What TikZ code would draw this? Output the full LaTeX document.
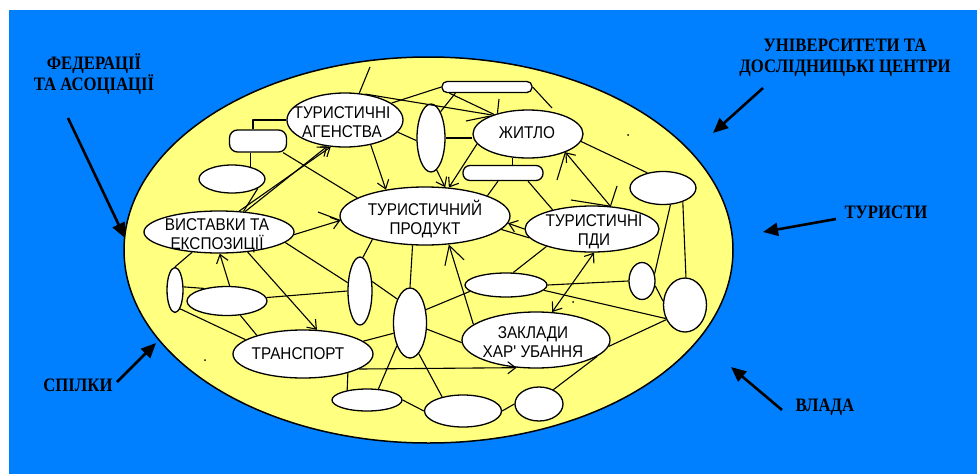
\documentclass[tikz,border=0pt]{standalone}
\usepackage{fontspec}
\setmainfont{Liberation Serif}
\newfontfamily\lblfont[FakeStretch=0.88]{Liberation Serif}
\newfontfamily\nfont[FakeStretch=0.9]{Liberation Sans}
\usetikzlibrary{shapes.geometric,arrows.meta}
\definecolor{bgblue}{RGB}{0,128,255}
\definecolor{fieldyellow}{RGB}{255,255,128}
\tikzset{
  field/.style={ellipse, draw, line width=1.5pt, fill=fieldyellow, inner sep=0pt},
  oval/.style={ellipse, draw, line width=1.3pt, fill=white, inner sep=0pt},
  pill/.style={rectangle, draw, line width=1.3pt, fill=white, inner sep=0pt},
  ntext/.style={font=\nfont\fontsize{17}{19}\selectfont, align=center, inner sep=0pt},
  otext/.style={font=\lblfont\bfseries\fontsize{19}{21}\selectfont, align=center, inner sep=0pt},
  conn/.style={line width=1.1pt},
  arr/.style={conn, -{Straight Barb[length=8pt,width=12pt]}},
  bigbarb/.style={conn, -{Straight Barb[length=18pt,width=20pt]}},
  bigarr/.style={line width=2.6pt, -{Triangle[length=15pt,width=13pt]}},
}
\begin{document}
\begin{tikzpicture}[x=1pt,y=-1pt,line join=round]
\useasboundingbox (0,0) rectangle (977,474);
\fill[white] (0,0) rectangle (977,474);
\fill[bgblue] (9,10) rectangle (977,474);

% field
\node[field, minimum width=609pt, minimum height=386pt] (fld) at (428.5,250) {};

% named ovals
\node[oval, minimum width=116pt, minimum height=54pt] (ag) at (345,120) {};
\node[oval, minimum width=110pt, minimum height=48pt] (zh) at (528,134) {};
\node[oval, minimum width=170pt, minimum height=58pt] (pr) at (425,216) {};
\node[oval, minimum width=134pt, minimum height=46pt] (pdi) at (592,229) {};
\node[oval, minimum width=150pt, minimum height=42pt] (vy) at (219,232) {};
\node[oval, minimum width=140pt, minimum height=48pt] (tr) at (303,354) {};
\node[oval, minimum width=148pt, minimum height=56pt] (za) at (536,340) {};

% blank shapes
\node[pill, rounded corners=8pt, minimum width=57pt, minimum height=22pt] (qa) at (258,141) {};
\node[oval, minimum width=66pt, minimum height=28pt] (qb) at (232,179) {};
\node[oval, minimum width=28pt, minimum height=68pt] (qc) at (431,138) {};
\node[pill, rounded corners=5pt, minimum width=90pt, minimum height=11pt] (qd) at (487,87) {};
\node[pill, rounded corners=7pt, minimum width=80pt, minimum height=15pt] (qe) at (503,173) {};
\node[oval, minimum width=66pt, minimum height=33pt] (qf) at (663,188) {};
\node[oval, minimum width=26pt, minimum height=37pt] (qg) at (642,281) {};
\node[oval, minimum width=43pt, minimum height=54pt] (qh) at (685,305) {};
\node[oval, minimum width=82pt, minimum height=24pt] (qi) at (506,285) {};
\node[oval, minimum width=33pt, minimum height=70pt] (qj) at (410,323) {};
\node[oval, minimum width=24pt, minimum height=68pt] (qk) at (360,291) {};
\node[oval, minimum width=16pt, minimum height=45pt] (ql) at (175,290) {};
\node[oval, minimum width=80pt, minimum height=29pt] (qm) at (227,301) {};
\node[oval, minimum width=70pt, minimum height=22pt] (qn) at (367,400) {};
\node[oval, minimum width=77pt, minimum height=32pt] (qo) at (463,411) {};
\node[oval, minimum width=48pt, minimum height=34pt] (qp) at (539,404) {};

% texts in ovals
\node[ntext] (agt) at (342,122) {ТУРИСТИЧНІ\\АГЕНСТВА};
\node[ntext] (zht) at (527,133) {ЖИТЛО};
\node[ntext] (prt) at (425,219) {ТУРИСТИЧНИЙ\\ПРОДУКТ};
\node[ntext] (pdit) at (594,232) {ТУРИСТИЧНІ\\ПДИ};
\node[ntext] (vyt) at (217,236) {ВИСТАВКИ ТА\\ЕКСПОЗИЦІЇ};
\node[ntext] (trt) at (298,354) {ТРАНСПОРТ};
\node[ntext] (zat) at (533,342) {ЗАКЛАДИ\\ХАР' УБАННЯ};

% free ends
\coordinate (s1) at (370,67);
\coordinate (s2) at (552,108);
\coordinate (s3) at (499,99);
\coordinate (s4) at (466,121);
\coordinate (s5) at (557,180);
\coordinate (s6) at (617,186);
\coordinate (s7) at (571,200);
\coordinate (s8) at (318,212);

% connectors
\draw[conn] ([xshift=-5pt]qa.north) |- (ag.west);
\draw[conn] ([xshift=-4pt]qa.south east) -- (pr.165);
\draw[conn] (qb.33) -- (qb.33 |- qa.south);
\draw[conn] (qb.-20) -- (vy.40);
\draw[arr] (vy.38) -- (ag.236);
\draw[arr] (vy.46) -- (ag.242);
\draw[arr] (ag.-44) -- (pr.146);
\draw[conn] (ag.20) -- (qd.west);
\draw[conn] (ag.52) -- (zh.152);
\draw[conn] (ag.62) -- (s1);
\draw[conn] (ag.-13) -- (qc.190);
\draw[conn] (qc.east) -- (qc.east -| zh.west);
\draw[arr] (qc.-80) -- (pr.55);
\draw[arr] (zh.191) -- (pr.50);
\draw[conn] ([xshift=14pt]qd.south west) -- (qc.70);
\draw[conn] ([xshift=8pt]qd.south west) -- (zh.150);
\draw[conn] (qd.east) -- (s2);
\draw[conn] (zh.146) -- (s3);
\draw[conn] (s4) -- (zh.155);
\draw[conn] (zh.237) -- (zh.237 |- qe.north);
\draw[conn] ([xshift=-5pt]qe.south) -- (pr.18);
\draw[conn] ([xshift=25pt]qe.south) -- (pdi.154);
\draw[conn] (zh.-8) -- (qf.136);
\draw[arr] (pdi.51) -- (zh.-26);
\draw[conn] (zh.-26) -- (s5);
\draw[conn] (pdi.51) -- (s6);
\draw[conn] (s7) -- (pdi.51);
\draw[arr] (pdi.west) -- (pr.-5);
\draw[conn] (pdi.188) -- (pr.-10);
\draw[conn, {Straight Barb[length=8pt,width=12pt]}-{Straight Barb[length=8pt,width=12pt]}] (pdi.-85) -- (za.60);
\draw[conn] (qi.60) -- (pdi.201);
\draw[conn] (qi.east) -- (qg.west);
\draw[conn] (qi.-8) -- (qh.215);
\draw[conn] (za.-5) -- (qh.218);
\draw[conn] (qg.-20) -- (qh.170);
\draw[conn] (qf.-66) -- (qg.30);
\draw[conn] (qf.-35) -- (qh.88);
\draw[bigbarb] (za.166) -- (pr.-50);
\draw[conn] (pr.247) -- (qj.north);
\draw[conn] (pr.204) -- (qk.85);
\draw[arr] (vy.-2) -- (pr.183);
\draw[conn] (s8) -- (pr.183);
\draw[conn] (vy.-9) -- (qk.146);
\draw[conn] (qk.38) -- (qj.118);
\draw[conn] (qm.5) -- (qk.west);
\draw[arr] (qm.80) -- (vy.-88);
\draw[conn] (qm.-47) -- (tr.158);
\draw[conn] (ql.north) -- (vy.217);
\draw[conn] (ql.20) -- (qm.151);
\draw[conn] (ql.-75) -- (tr.166);
\draw[arr] (vy.-35) -- (tr.60);
\draw[conn] (tr.12) -- (qj.212);
\draw[arr] (tr.-15) -- (za.-125);
\draw[conn] (tr.-23) -- (qn.154);
\draw[conn] (qn.44) -- (qj.240);
\draw[conn] (qj.-74) -- (qo.146);
\draw[conn] (qj.40) -- (qi.190);
\draw[conn] (qj.-20) -- (za.182);
\draw[conn] (qn.east) -- (qo.west);
\draw[conn] (qo.east) -- (qp.west);
\draw[conn] (qp.45) -- (za.-15);

% dots
\fill (628,135) circle (1pt);
\fill (573,302) circle (1pt);
\fill (205,360) circle (1pt);

% outer labels
\node[otext] (fed) at (94,74) {ФЕДЕРАЦІЇ\\ТА АСОЦІАЦІЇ};
\node[otext] (uni) at (845,58) {УНІВЕРСИТЕТИ ТА\\ДОСЛІДНИЦЬКІ ЦЕНТРИ};
\node[otext] (tur) at (886,212) {ТУРИСТИ};
\node[otext] (spl) at (78,385) {СПІЛКИ};
\node[otext] (vla) at (825,407) {ВЛАДА};

\coordinate (fa) at (68,118);
\coordinate (fb) at (125,238);
\coordinate (ua) at (763,88);
\coordinate (ub) at (713,133);
\coordinate (ta) at (836,219);
\coordinate (tb) at (763,232);
\coordinate (sa) at (117,382);
\coordinate (sb) at (156,343);
\coordinate (va) at (782,410);
\coordinate (vb) at (731,367);
\draw[bigarr] (fa) -- (fb);
\draw[bigarr] (ua) -- (ub);
\draw[bigarr] (ta) -- (tb);
\draw[bigarr] (sa) -- (sb);
\draw[bigarr] (va) -- (vb);
\end{tikzpicture}
\end{document}
